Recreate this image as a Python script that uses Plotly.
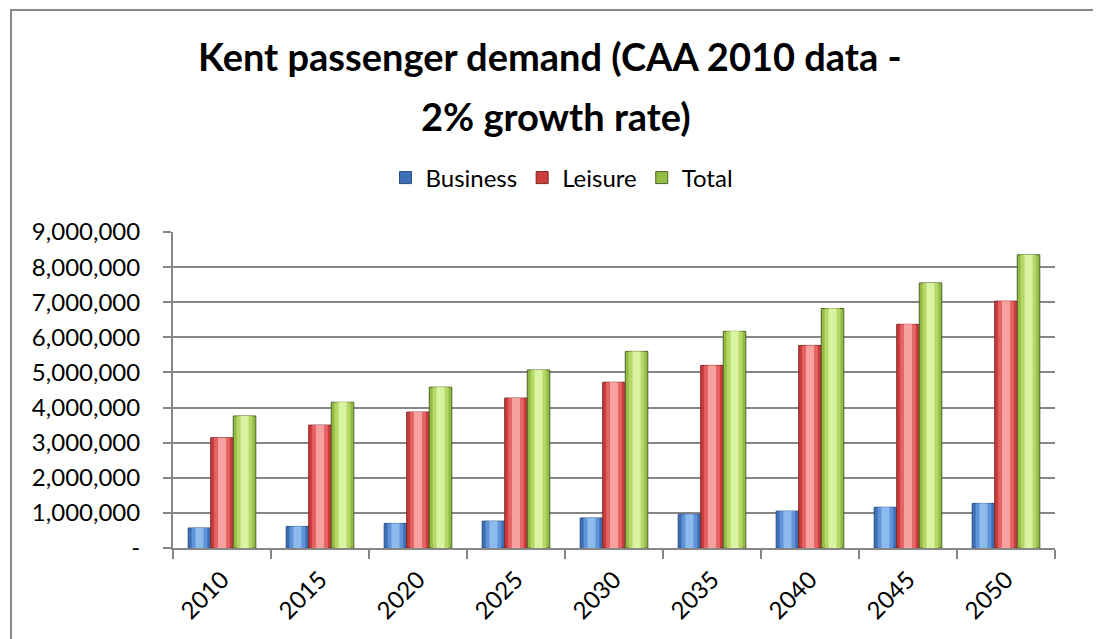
import plotly.graph_objects as go

years = ["2010", "2015", "2020", "2025", "2030", "2035", "2040", "2045", "2050"]
business = [570000, 615000, 700000, 765000, 855000, 960000, 1050000, 1160000, 1270000]
leisure = [3140000, 3500000, 3870000, 4270000, 4720000, 5200000, 5770000, 6370000, 7030000]
total = [3760000, 4150000, 4580000, 5070000, 5600000, 6170000, 6820000, 7550000, 8350000]

y_ticks = [0, 1000000, 2000000, 3000000, 4000000, 5000000, 6000000, 7000000, 8000000, 9000000]
y_labels = ["-"] + [f"{v:,}" for v in y_ticks[1:]]

FONT = "Lato"

# plot-area geometry in figure pixels (page is offset by the 8px body margin)
L, T, R, B = 165, 224, 1047, 540
PW, PH = R - L, B - T


def px(x):
    return (x - L) / PW


def py(y):
    return (B - y) / PH


series = [
    ("Business", business, -0.345, ["#3D6FB6", "#5F92D6", "#8DBBEE"], "#2B4F80"),
    ("Leisure", leisure, -0.115, ["#CC3C3C", "#E56363", "#F7A0A0"], "#7E2523"),
    ("Total", total, 0.115, ["#93BC45", "#B4D767", "#DAF3A0"], "#4F6228"),
]
W = 0.23

fig = go.Figure()
for name, vals, off, cols, edge in series:
    fig.add_trace(go.Bar(
        x=years, y=vals, name=name, offset=off, width=W,
        marker=dict(color=cols[0], line=dict(color=edge, width=1)),
        legendgroup=name, showlegend=True, hoverinfo="skip",
    ))
    fig.add_trace(go.Bar(
        x=years, y=vals, name=name, offset=off + W * 0.15, width=W * 0.7,
        marker=dict(color=cols[1], line=dict(width=0)),
        legendgroup=name, showlegend=False, hoverinfo="skip",
    ))
    fig.add_trace(go.Bar(
        x=years, y=vals, name=name, offset=off + W * 0.32, width=W * 0.36,
        marker=dict(color=cols[2], line=dict(width=0)),
        legendgroup=name, showlegend=False, hoverinfo="skip",
    ))

fig.update_layout(
    width=1101, height=639,
    barmode="overlay",
    paper_bgcolor="white", plot_bgcolor="white",
    margin=dict(l=L, r=1101 - R, t=T, b=639 - B, autoexpand=False),
    font=dict(family=FONT, color="black", size=24),
    legend=dict(
        orientation="h", x=px(554), xanchor="center", y=py(170), yanchor="middle",
        font=dict(family=FONT, size=24), traceorder="normal",
        itemwidth=30, bgcolor="rgba(0,0,0,0)",
    ),
    xaxis=dict(
        type="category", tickangle=-45, tickson="boundaries",
        ticks="outside", ticklen=9, tickwidth=2, tickcolor="#868686",
        showline=True, linecolor="#868686", linewidth=2,
        showgrid=False, tickfont=dict(family=FONT, size=24),
        ticklabelstandoff=6,
        range=[-0.5, 8.5],
    ),
    yaxis=dict(
        range=[0, 9000000], tickvals=y_ticks, ticktext=y_labels,
        ticks="outside", ticklen=8, tickwidth=2, tickcolor="#868686",
        showline=True, linecolor="#868686", linewidth=2,
        showgrid=True, gridcolor="#868686", gridwidth=2,
        zeroline=False, ticklabelstandoff=18,
        tickfont=dict(family=FONT, size=24),
    ),
    shapes=[dict(
        type="rect", xref="paper", yref="paper",
        x0=px(3), x1=1.2, y0=-0.5, y1=py(2),
        line=dict(color="#888888", width=2), fillcolor="rgba(0,0,0,0)", layer="below",
    )],
    annotations=[
        dict(
            text="<b>Kent passenger demand (CAA 2010 data -</b>",
            xref="paper", yref="paper", x=px(542), xanchor="center",
            y=py(48), yanchor="middle", showarrow=False,
            font=dict(family=FONT, size=38, color="black"),
        ),
        dict(
            text="<b>2% growth rate)</b>",
            xref="paper", yref="paper", x=px(548), xanchor="center",
            y=py(108), yanchor="middle", showarrow=False,
            font=dict(family=FONT, size=38, color="black"),
        ),
        dict(
            text="<b>Figure 4: Demand in the current core Manston catchment based on 2/A ICR</b>",
            xref="paper", yref="paper", x=px(-8), xanchor="left",
            y=py(1), yanchor="bottom", showarrow=False,
            font=dict(family=FONT, size=22, color="black"),
        ),
    ],
)

fig.write_html("out.html")
